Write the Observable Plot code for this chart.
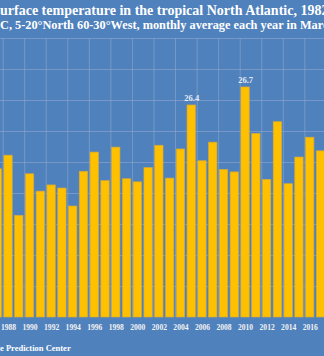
<!DOCTYPE html>
<html>
<head>
<meta charset="utf-8">
<script src="https://cdn.jsdelivr.net/npm/d3@7"></script>
<script src="https://cdn.jsdelivr.net/npm/@observablehq/plot@0.6"></script>
<style>
  html, body { margin: 0; padding: 0; background: #4f81bd; }
  #wrap { position: relative; width: 324px; height: 356px; overflow: hidden; background: #4f81bd; font-family: "Liberation Serif", "DejaVu Serif", serif; }
  #wrap svg { position: absolute; left: 0; top: 0; }
  .line { position: absolute; white-space: nowrap; color: #ffffff; font-weight: bold; }
  #t1 { font-size: 14px; line-height: 14px; top: 4.3px; }
  #t2 { font-size: 12.3px; line-height: 12.3px; top: 19.2px; }
  #src { font-size: 8.5px; line-height: 8.5px; top: 343.6px; }
</style>
</head>
<body>
<div id="wrap">
  <div id="t1" class="line"><span class="pre">Sea s</span>urface temperature in the tropical North Atlantic, 1982-2017</div>
  <div id="t2" class="line"><span class="pre">Degrees </span>C, 5-20°North 60-30°West, monthly average each year in March</div>
  <div id="src" class="line"><span class="pre">Source: NOAA Climat</span>e Prediction Center</div>
</div>
<script>
const years = [1987, 1988, 1989, 1990, 1991, 1992, 1993, 1994, 1995, 1996,
               1997, 1998, 1999, 2000, 2001, 2002, 2003, 2004, 2005, 2006,
               2007, 2008, 2009, 2010, 2011, 2012, 2013, 2014, 2015, 2016, 2017];
const temps = [25.39, 25.61, 24.64, 25.31, 25.03, 25.13, 25.08, 24.79, 25.35, 25.66,
               25.20, 25.74, 25.23, 25.18, 25.41, 25.77, 25.24, 25.71, 26.42, 25.52,
               25.82, 25.38, 25.34, 26.71, 25.96, 25.22, 26.15, 25.15, 25.58, 25.90, 25.68];
const labeledYears = [2005, 2010];
const tickYears = [1988, 1990, 1992, 1994, 1996, 1998, 2000, 2002, 2004, 2006, 2008, 2010, 2012, 2014, 2016];
const yGrid = [23.5, 24, 24.5, 25, 25.5, 26, 26.5, 27, 27.5];
const yMin = 23, yMax = 27.5;

const data = years.map((year, i) => ({year, temp: temps[i]}));
const halfBar = 0.386;

const chart = Plot.plot({
  width: 324,
  height: 356,
  marginTop: 38,
  marginBottom: 39,
  marginLeft: 0,
  marginRight: 0,
  style: {background: "transparent", fontFamily: "'Liberation Serif', serif"},
  x: {type: "linear", domain: [1987, 2017], range: [-2.75, 320.5], axis: null},
  y: {domain: [yMin, yMax], axis: null},
  marks: [
    Plot.ruleY(yGrid, {stroke: "#8ea6cb", strokeWidth: 0.8, strokeOpacity: 0.8}),
    Plot.ruleX(tickYears.map(y => y - 0.5), {y1: yMin, y2: yMax, stroke: "#8ea6cb", strokeWidth: 0.8, strokeOpacity: 0.8}),
    Plot.rect(data, {
      x1: d => d.year - halfBar,
      x2: d => d.year + halfBar,
      y1: () => yMin,
      y2: "temp",
      fill: "#ffc000",
      stroke: "#d4a838",
      strokeWidth: 0.7
    }),
    Plot.text(data.filter(d => labeledYears.includes(d.year)), {
      x: "year",
      y: "temp",
      text: d => d.temp.toFixed(1),
      dy: -4,
      lineAnchor: "bottom",
      fill: "#e6ebf3",
      fontSize: 8.5,
      fontWeight: "bold"
    }),
    Plot.axisX({
      ticks: tickYears,
      tickSize: 0,
      tickPadding: 7,
      tickFormat: d => String(d),
      fontSize: 7.6,
      fontWeight: "bold",
      fill: "#f2f2f2",
      label: null
    })
  ]
});
document.getElementById("wrap").prepend(chart);

document.querySelectorAll("#wrap .line").forEach(el => {
  const pre = el.querySelector(".pre");
  el.style.left = (-pre.getBoundingClientRect().width) + "px";
});
</script>
</body>
</html>
